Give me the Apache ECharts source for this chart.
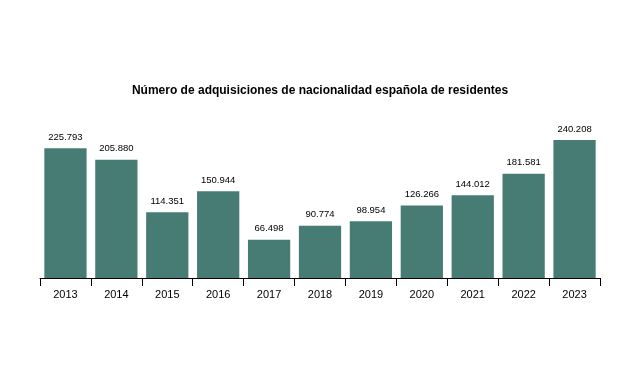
<!DOCTYPE html>
<html><head><meta charset="utf-8">
<script src="https://cdn.jsdelivr.net/npm/echarts@6/dist/echarts.min.js"></script>
<style>html,body{margin:0;padding:0;background:#fff}#c{width:640px;height:384px}</style>
</head><body><div id="c"></div>
<script>
const years = ['2013','2014','2015','2016','2017','2018','2019','2020','2021','2022','2023'];
const values = [225793,205880,114351,150944,66498,90774,98954,126266,144012,181581,240208];
const titleText = 'Número de adquisiciones de nacionalidad española de residentes';
const fmt = v => String(v).replace(/\B(?=(\d{3})+(?!\d))/g, '.');
const chart = echarts.init(document.getElementById('c'));
chart.setOption({
  animation:false,
  backgroundColor:'#ffffff',
  textStyle:{fontFamily:'Liberation Sans, Arial, sans-serif'},
  title:{text:titleText,left:'center',top:80,textStyle:{fontSize:12,fontWeight:'bold',color:'#000',fontFamily:'Liberation Sans, Arial, sans-serif'}},
  grid:{left:40,right:40,top:134.4,bottom:106,containLabel:false},
  xAxis:{type:'category',data:years,boundaryGap:true,
    axisLine:{lineStyle:{color:'#000',width:1}},
    axisTick:{show:true,length:8,lineStyle:{color:'#000'}},
    axisLabel:{color:'#000',fontSize:11,margin:11}},
  yAxis:{type:'value',min:0,max:250000,show:false,splitLine:{show:false}},
  series:[{type:'bar',data:values,barCategoryGap:'17%',
    itemStyle:{color:'#467c74'},
    label:{show:true,position:'top',distance:6,color:'#000',fontSize:9.5,formatter:p=>fmt(p.value)}}]
});
</script></body></html>
